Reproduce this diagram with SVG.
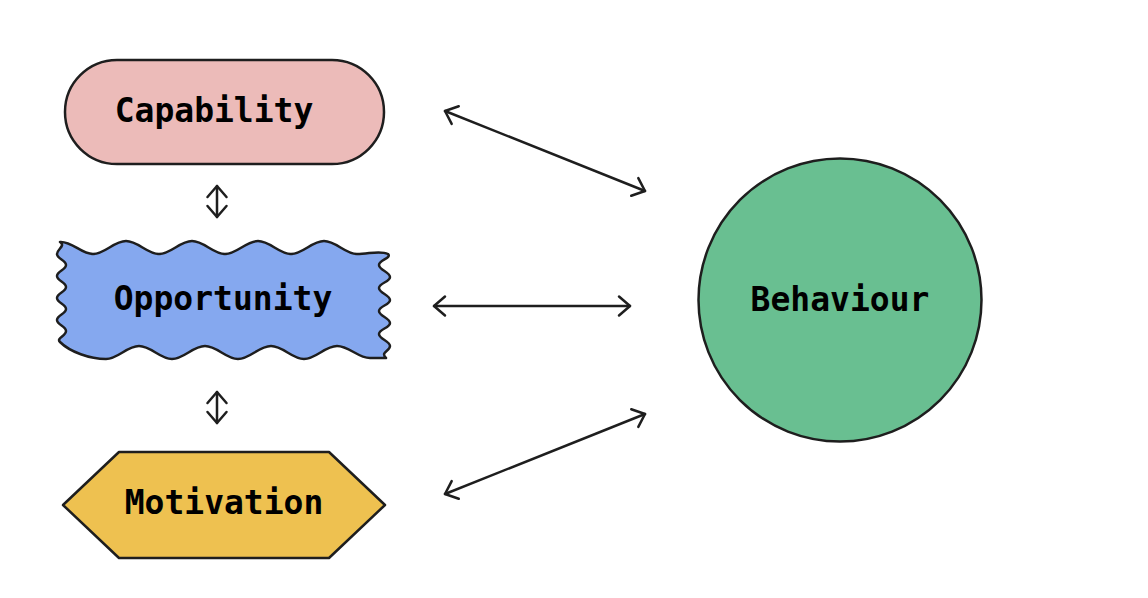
<svg xmlns="http://www.w3.org/2000/svg" width="1148" height="598" viewBox="0 0 1148 598">
<style>
.shape{stroke:#1e1e1e;stroke-width:2.5;stroke-linejoin:round}
.lbl{font-family:"DejaVu Sans Mono","Liberation Mono",monospace;font-weight:bold;font-size:33px;fill:#000;text-anchor:middle}
.conn{fill:none;stroke:#1e1e1e;stroke-width:2.5;stroke-linecap:round}
</style>
<defs>
<marker id="ah" viewBox="-14 -12 17 24" refX="0" refY="0" markerWidth="17" markerHeight="24" markerUnits="userSpaceOnUse" orient="auto-start-reverse">
<path d="M -11 -9.5 L 0 0 L -11 9.5" fill="none" stroke="#1e1e1e" stroke-width="2.5" stroke-linecap="round" stroke-linejoin="round"/>
</marker>
</defs>
<rect width="1148" height="598" fill="#ffffff"/>
<g id="capability">
<rect class="shape" x="65" y="60" width="319" height="104" rx="52" ry="52" fill="#ecbbb9"/>
<text class="lbl" x="214" y="122">Capability</text>
</g>
<g id="opportunity">
<path class="shape" fill="#85a8ef" d="M 60 242 C 72 241 81 254 93 254 C 105 254 114 241 126 241 C 138 241 147 254 159 254 C 171 254 180 241 192 241 C 204 241 213 254 225 254 C 237 254 246 241 258 241 C 270 241 279 254 291 254 C 303 254 312 241 324 241 C 336 241 345 254 357 254 C 369 254 380 250 388 254 C 392 258 379 260 379 265 C 379 270 390 272 390 277 C 390 282 379 283 379 288 C 379 293 390 295 390 300 C 390 305 379 306 379 311 C 379 316 390 318 390 323 C 390 328 379 329 379 334 C 379 339 390 341 390 346 C 390 351 380 352 386 358 C 380 358 376 358 370 358 C 358 358 349 346 337 346 C 325 346 316 359 304 359 C 292 359 283 346 271 346 C 259 346 250 359 238 359 C 226 359 217 346 205 346 C 193 346 184 359 172 359 C 160 359 151 346 139 346 C 127 346 118 359 106 359 C 90 359 70 352 60 342 C 56 338 66 336 66 331 C 66 326 57 325 57 320 C 57 315 66 314 66 309 C 66 304 57 303 57 298 C 57 293 66 292 66 287 C 66 282 57 281 57 276 C 57 271 66 270 66 265 C 66 260 57 259 57 254 C 57 249 66 246 60 242 Z"/>
<text class="lbl" x="223" y="310">Opportunity</text>
</g>
<g id="motivation">
<polygon class="shape" fill="#eec150" points="63,505 119,452 329,452 385,505 329,558 119,558"/>
<text class="lbl" x="224" y="514">Motivation</text>
</g>
<g id="behaviour">
<circle class="shape" cx="840" cy="300" r="141.5" fill="#69bf91"/>
<text class="lbl" x="840" y="311">Behaviour</text>
</g>
<g id="connectors">
<line class="conn" x1="217" y1="186" x2="217" y2="217" marker-start="url(#ah)" marker-end="url(#ah)"/>
<line class="conn" x1="217" y1="392" x2="217" y2="423" marker-start="url(#ah)" marker-end="url(#ah)"/>
<line class="conn" x1="445" y1="111" x2="645" y2="191" marker-start="url(#ah)" marker-end="url(#ah)"/>
<line class="conn" x1="434" y1="306" x2="630" y2="306" marker-start="url(#ah)" marker-end="url(#ah)"/>
<line class="conn" x1="445" y1="494" x2="645" y2="414" marker-start="url(#ah)" marker-end="url(#ah)"/>
</g>
</svg>
